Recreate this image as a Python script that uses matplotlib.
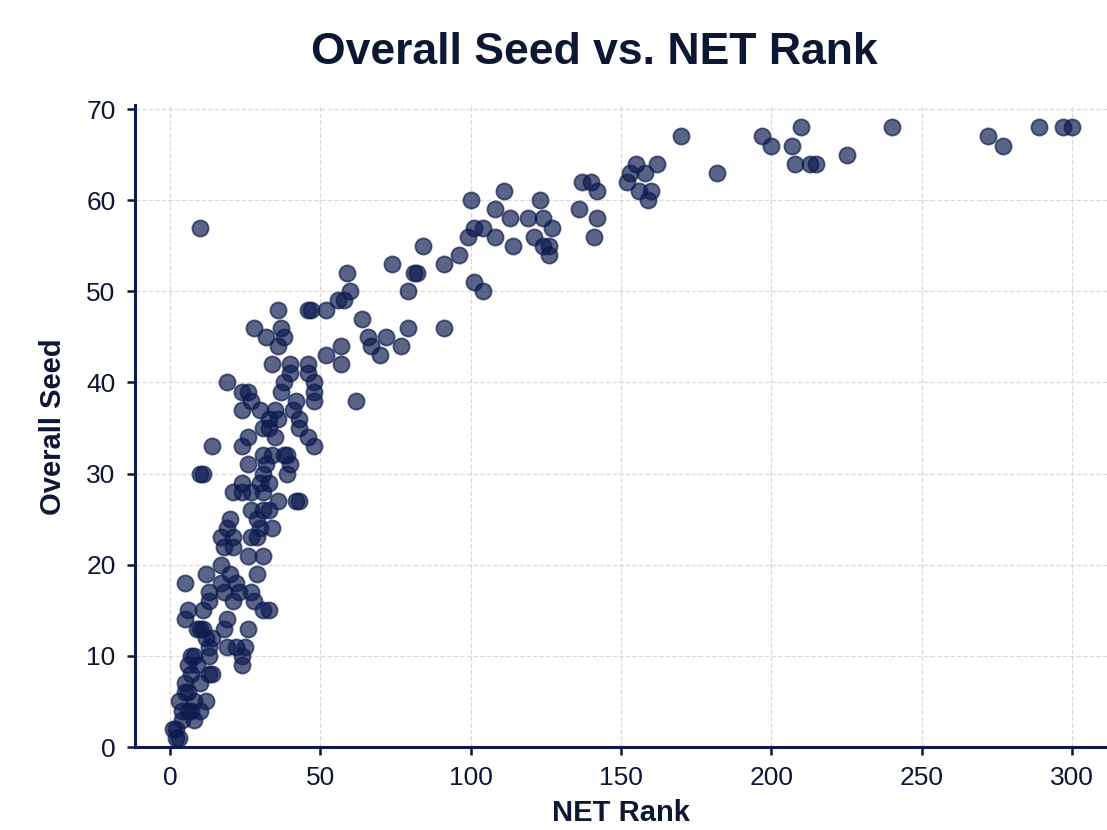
import matplotlib
matplotlib.use("Agg")
import matplotlib.pyplot as plt

# NET rank vs overall seed
net_rank = [
    170, 197, 200, 210, 207, 208, 213, 215, 225, 240, 272, 277, 289, 297, 300, 182,
    155, 162, 153, 158, 152, 156, 160, 159,
    137, 140, 142, 136, 142, 141,
    111, 100, 123, 108, 113, 119, 124, 127, 101, 104, 99, 108, 121, 114, 124, 126, 126,
    96, 84, 91, 82, 81, 74, 79, 101, 104,
    59, 60, 58, 56, 64, 66, 72, 79, 91, 67, 77, 70, 57, 57, 62,
    36, 46, 47, 52, 28, 37, 32, 38, 36, 52, 34, 40, 46, 40, 46, 19, 38, 48,
    24, 26, 37, 48, 48, 27, 42,
    24, 30, 35, 41, 43, 33, 36, 31, 33, 43, 26, 35, 46, 14, 24, 48,
    31, 34, 38, 39, 40, 32, 26, 31, 39, 10, 11, 24, 30, 33, 21, 24, 31, 27,
    36, 42, 43, 27, 31, 33, 29, 20, 19, 30, 34,
    17, 21, 27, 29, 18, 21, 26, 31, 17, 20, 12, 29, 5, 17, 22, 13, 18, 23, 27,
    13, 21, 28, 31, 33, 6, 11, 5, 19, 26, 9, 11, 18, 14, 12,
    19, 22, 25, 13, 24, 24, 7, 13, 7, 13, 14, 10, 5, 12, 3, 6, 10, 7, 4, 8,
    1, 2, 2, 3, 5, 6, 8, 4, 9, 8, 6, 10,
    10,
]
overall_seed = [
    67, 67, 66, 68, 66, 64, 64, 64, 65, 68, 67, 66, 68, 68, 68, 63,
    64, 64, 63, 63, 62, 61, 61, 60,
    62, 62, 61, 59, 58, 56,
    61, 60, 60, 59, 58, 58, 58, 57, 57, 57, 56, 56, 56, 55, 55, 55, 54,
    54, 55, 53, 52, 52, 53, 50, 51, 50,
    52, 50, 49, 49, 47, 45, 45, 46, 46, 44, 44, 43, 44, 42, 38,
    48, 48, 48, 48, 46, 46, 45, 45, 44, 43, 42, 42, 42, 41, 41, 40, 40, 40,
    39, 39, 39, 39, 38, 38, 38,
    37, 37, 37, 37, 36, 36, 36, 35, 35, 35, 34, 34, 34, 33, 33, 33,
    32, 32, 32, 32, 31, 31, 31, 30, 30, 30, 30, 29, 29, 29, 28, 28, 28, 28,
    27, 27, 27, 26, 26, 26, 25, 25, 24, 24, 24,
    23, 23, 23, 23, 22, 22, 21, 21, 20, 19, 19, 19, 18, 18, 18, 17, 17, 17, 17,
    16, 16, 16, 15, 15, 15, 15, 14, 14, 13, 13, 13, 13, 12, 12,
    11, 11, 11, 11, 10, 9, 10, 10, 8, 8, 8, 7, 6, 5, 5, 4, 4, 4, 3, 3,
    2, 2, 1, 1, 7, 6, 5, 4, 9, 10, 9, 13,
    57,
]
x_ticks = [0, 50, 100, 150, 200, 250, 300]
y_ticks = [0, 10, 20, 30, 40, 50, 60, 70]

navy = "#0c1a4f"
text_col = "#0d1633"
plt.rcParams["font.family"] = ["Liberation Sans", "DejaVu Sans"]

fig = plt.figure(figsize=(11.07, 8.3), dpi=100)
ax = fig.add_axes([0.122, 0.1, 0.878, 0.773])

ax.scatter(net_rank, overall_seed, s=135, color=navy, alpha=0.68,
           edgecolors=navy, linewidths=1.3, zorder=3)

ax.set_xlim(-11.6, 311.6)
ax.set_ylim(0, 70.4)
ax.set_xticks(x_ticks)
ax.set_yticks(y_ticks)
ax.grid(True, color="#d9d9d9", linestyle="--", linewidth=0.9, zorder=0)

for side in ["top", "right"]:
    ax.spines[side].set_visible(False)
for side in ["left", "bottom"]:
    ax.spines[side].set_color(navy)
    ax.spines[side].set_linewidth(2.2)

ax.tick_params(axis="both", labelsize=19, colors=text_col, length=6, width=1.8, pad=8)
ax.set_xlabel("NET Rank", fontsize=21, fontweight="bold", color=text_col, labelpad=6)
ax.set_ylabel("Overall Seed", fontsize=21, fontweight="bold", color=text_col, labelpad=14)
fig.suptitle("Overall Seed vs. NET Rank", fontsize=32, fontweight="bold",
             color=text_col, x=0.537, y=0.962)

fig.savefig("out.png", dpi=100)
